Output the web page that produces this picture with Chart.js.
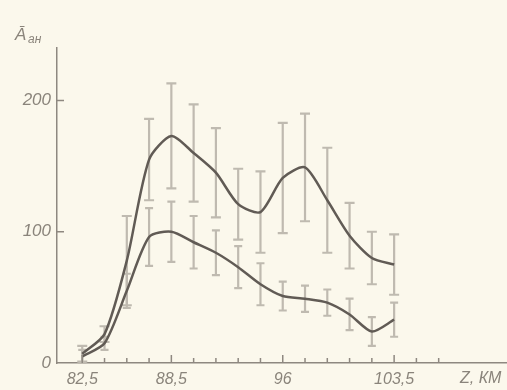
<!DOCTYPE html>
<html>
<head>
<meta charset="utf-8">
<script src="https://cdn.jsdelivr.net/npm/chart.js@4/dist/chart.umd.min.js"></script>
<style>
  body { margin: 0; background: #fbf8ec; }
  canvas { display: block; }
</style>
</head>
<body>
<canvas id="grafico" width="507" height="390"></canvas>
<script>
// altitude, km
var altitudes = [82.5, 84, 85.5, 87, 88.5, 90, 91.5, 93, 94.5, 96, 97.5, 99, 100.5, 102, 103.5];
// upper curve and its error half-widths
var valoresAlto = [7, 22, 78, 155, 173, 160, 145, 121, 115, 141, 149, 124, 97, 80, 75];
var errosAlto = [6, 6, 34, 31, 40, 37, 34, 27, 31, 42, 41, 40, 25, 20, 23];
// lower curve and its error half-widths
var valoresBaixo = [5, 15, 55, 96, 100, 92, 84, 73, 60, 51, 49, 46, 37, 24, 33];
var errosBaixo = [5, 5, 13, 22, 23, 20, 17, 16, 16, 11, 10, 10, 12, 11, 13];
// ticks
var ticksX = [82.5, 84, 85.5, 87, 88.5, 90, 91.5, 93, 94.5, 96, 97.5, 99, 100.5, 102, 103.5, 105, 106.5];
var rotulosX = { 82.5: '82,5', 88.5: '88,5', 96: '96', 103.5: '103,5' };
var ticksY = [0, 100, 200];

var corLinha = '#615b55';
var corErro = '#bfbab0';
var corTexto = '#8a847b';

function pontos(valores) {
	return altitudes.map(function (z, i) { return { x: z, y: valores[i] }; });
}

var barrasErro = {
	id: 'barrasErro',
	beforeDatasetsDraw: function (chart) {
		var ctx = chart.ctx;
		var sx = chart.scales.x, sy = chart.scales.y;
		var series = [[valoresAlto, errosAlto, 5], [valoresBaixo, errosBaixo, 4]];
		ctx.save();
		ctx.strokeStyle = corErro;
		ctx.lineWidth = 2.2;
		series.forEach(function (s) {
			altitudes.forEach(function (z, i) {
				var px = sx.getPixelForValue(z);
				var top = sy.getPixelForValue(s[0][i] + s[1][i]);
				var bot = sy.getPixelForValue(Math.max(0, s[0][i] - s[1][i]));
				ctx.beginPath();
				ctx.moveTo(px, top); ctx.lineTo(px, bot);
				ctx.moveTo(px - s[2], top); ctx.lineTo(px + s[2], top);
				ctx.moveTo(px - s[2], bot); ctx.lineTo(px + s[2], bot);
				ctx.stroke();
			});
		});
		ctx.restore();
	},
	afterDraw: function (chart) {
		var ctx = chart.ctx;
		var sx = chart.scales.x, sy = chart.scales.y;
		var base = sy.getPixelForValue(0);
		var left = sx.left;
		ctx.save();
		ctx.strokeStyle = '#8e8880';
		ctx.lineWidth = 1.5;
		ticksX.forEach(function (z) {
			var px = sx.getPixelForValue(z);
			var h = rotulosX[z] ? 8 : 5;
			ctx.beginPath();
			ctx.moveTo(px, base); ctx.lineTo(px, base - h);
			ctx.stroke();
		});
		ticksY.forEach(function (v) {
			if (v === 0) return;
			var py = sy.getPixelForValue(v);
			ctx.beginPath();
			ctx.moveTo(left, py); ctx.lineTo(left + 7, py);
			ctx.stroke();
		});
		ctx.fillStyle = corTexto;
		ctx.textBaseline = 'alphabetic';
		ctx.font = 'italic 17px "Liberation Sans"';
		ctx.fillText('A\u0304', 15, 40);
		ctx.font = 'italic 12px "Liberation Sans"';
		ctx.fillText('ан', 28, 43);
		ctx.font = 'italic 16px "Liberation Sans"';
		ctx.textBaseline = 'middle';
		ctx.fillText('Z, КМ', 460, 379);
		ctx.restore();
	}
};

new Chart(document.getElementById('grafico'), {
	type: 'line',
	data: {
		datasets: [
			{
				data: pontos(valoresAlto),
				borderColor: corLinha,
				borderWidth: 2.5,
				pointRadius: 0,
				tension: 0.25,
				fill: false
			},
			{
				data: pontos(valoresBaixo),
				borderColor: corLinha,
				borderWidth: 2.5,
				pointRadius: 0,
				tension: 0.25,
				fill: false
			}
		]
	},
	options: {
		responsive: false,
		animation: false,
		layout: { padding: { top: 48, right: 0, left: 0, bottom: 0 } },
		plugins: { legend: { display: false }, tooltip: { enabled: false } },
		scales: {
			x: {
				type: 'linear',
				min: 80.8,
				max: 111.1,
				afterBuildTicks: function (axis) {
					axis.ticks = ticksX.map(function (v) { return { value: v }; });
				},
				afterFit: function (axis) { axis.height = 27; },
				grid: { display: false, drawTicks: false },
				border: { display: true, color: '#8e8880', width: 1.5 },
				ticks: {
					autoSkip: false,
					maxRotation: 0,
					padding: 7,
					color: corTexto,
					font: { family: 'Liberation Sans', size: 16, style: 'italic' },
					callback: function (v) { return rotulosX[v] || ''; }
				}
			},
			y: {
				min: 0,
				max: 240,
				afterBuildTicks: function (axis) {
					axis.ticks = ticksY.map(function (v) { return { value: v }; });
				},
				afterFit: function (axis) { axis.width = 57; },
				grid: { display: false, drawTicks: false },
				border: { display: true, color: '#8e8880', width: 1.5 },
				ticks: {
					padding: 6,
					color: corTexto,
					font: { family: 'Liberation Sans', size: 17, style: 'italic' }
				}
			}
		}
	},
	plugins: [barrasErro]
});
</script>
</body>
</html>
